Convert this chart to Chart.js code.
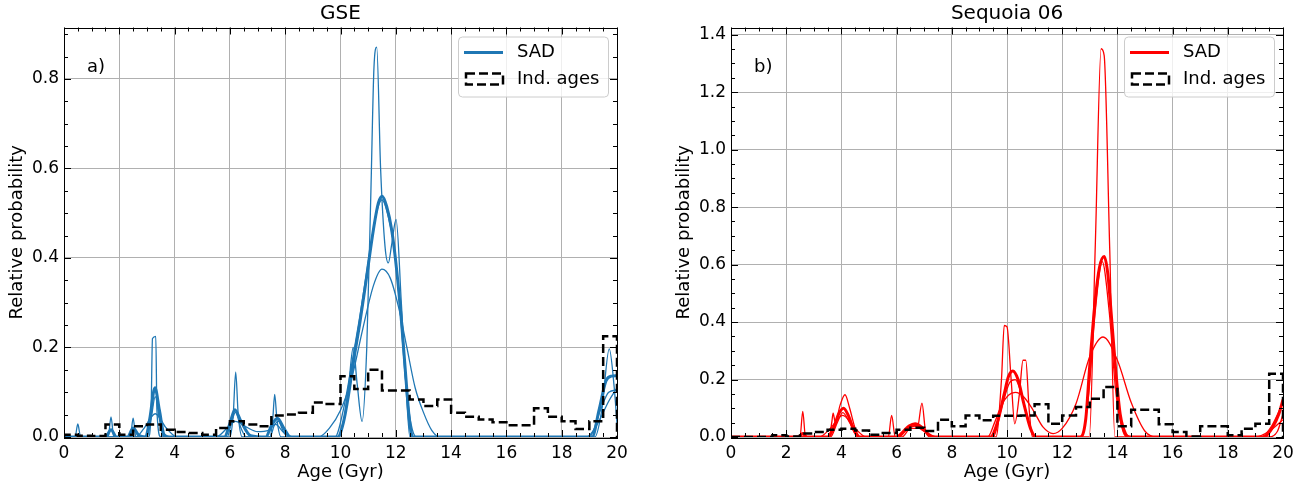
<!DOCTYPE html>
<html>
<head>
<meta charset="utf-8">
<script src="https://cdn.jsdelivr.net/npm/chart.js@4.4.1/dist/chart.umd.min.js"></script>
<style>
  html, body { margin: 0; padding: 0; background: #fff; overflow: hidden; }
  body { width: 1315px; height: 489px; position: relative; }
  canvas { position: absolute; top: 0; }
  #gse { left: 0; }
  #seq { left: 667px; }
</style>
</head>
<body>
<canvas id="gse" width="657" height="489"></canvas>
<canvas id="seq" width="648" height="489"></canvas>
<script>
// ---- shared axis values ----
const xTicks = [0, 2, 4, 6, 8, 10, 12, 14, 16, 18, 20];
const gseYTicks = [0, 0.2, 0.4, 0.6, 0.8];
const seqYTicks = [0, 0.2, 0.4, 0.6, 0.8, 1.0, 1.2, 1.4];

// histogram bins (left edges, 0.5 Gyr wide)
const binStarts = [0, 0.5, 1, 1.5, 2, 2.5, 3, 3.5, 4, 4.5, 5, 5.5, 6, 6.5, 7, 7.5, 8, 8.5, 9, 9.5,
  10, 10.5, 11, 11.5, 12, 12.5, 13, 13.5, 14, 14.5, 15, 15.5, 16, 16.5, 17, 17.5, 18, 18.5, 19, 19.5];

// ---- GSE ----
const gseHist = [0.005, 0.003, 0.002, 0.028, 0.005, 0.024, 0.028, 0.016, 0.011, 0.009,
  0.005, 0.02, 0.035, 0.028, 0.024, 0.048, 0.05, 0.054, 0.077, 0.074,
  0.136, 0.107, 0.15, 0.104, 0.104, 0.084, 0.069, 0.084, 0.054, 0.045,
  0.039, 0.033, 0.026, 0.026, 0.064, 0.045, 0.035, 0.018, 0.035, 0.225];

const gseThickAge = [0, 1.5, 1.7, 1.9, 2.3, 2.5, 2.7, 2.95, 3.1, 3.29, 3.45, 3.62, 3.8, 5.8, 6.0, 6.18, 6.4, 6.75,
  7.3, 7.5, 7.72, 7.95, 8.2, 9.9, 10.1, 10.28, 10.46, 10.7, 10.95, 11.19, 11.37, 11.51, 11.67, 11.85, 12.03,
  12.21, 12.37, 12.49, 12.61, 19.1, 19.35, 19.6, 19.8, 20];
const gseThickVal = [0, 0, 0.016, 0, 0, 0.02, 0.004, 0, 0.04, 0.11, 0.06, 0.005, 0, 0, 0.03, 0.061, 0.035, 0.003,
  0, 0.025, 0.042, 0.02, 0, 0, 0.031, 0.09, 0.165, 0.255, 0.36, 0.463, 0.523, 0.538, 0.515, 0.463, 0.374,
  0.255, 0.128, 0.039, 0, 0, 0.06, 0.125, 0.136, 0.137];

const gseSpikyAge = [0, 0.4, 0.5, 0.6, 1.6, 1.7, 1.8, 2.4, 2.5, 2.6, 3.05, 3.15, 3.2, 3.32, 3.36, 3.5,
  6.0, 6.12, 6.21, 6.3, 6.45, 7.45, 7.55, 7.62, 7.7, 7.85, 9.9, 10.1, 10.3, 10.46, 10.6, 10.78, 10.95,
  11.1, 11.21, 11.31, 11.45, 11.61, 11.73, 11.85, 12.01, 12.2, 12.4, 12.51, 19.2, 19.45, 19.72, 19.9, 20];
const gseSpikyVal = [0, 0, 0.029, 0, 0, 0.045, 0, 0, 0.042, 0, 0, 0.06, 0.22, 0.225, 0.06, 0,
  0, 0.05, 0.145, 0.05, 0, 0, 0.04, 0.095, 0.04, 0, 0, 0.03, 0.12, 0.2, 0.12, 0.035, 0.2,
  0.55, 0.825, 0.871, 0.6, 0.426, 0.389, 0.43, 0.486, 0.3, 0.08, 0, 0, 0.06, 0.197, 0.11, 0.03];

const gseBroadAge = [0, 2.6, 2.9, 3.3, 3.7, 4.1, 5.5, 5.9, 6.2, 6.6, 7.0, 7.4, 7.65, 7.95, 8.3, 9.2, 9.6, 10.0,
  10.4, 10.8, 11.2, 11.5, 11.8, 12.1, 12.4, 12.7, 13.0, 13.3, 13.6, 18.9, 19.3, 19.7, 20];
const gseBroadVal = [0, 0, 0.02, 0.052, 0.02, 0, 0, 0.02, 0.035, 0.022, 0.012, 0.015, 0.028, 0.01, 0, 0, 0.02, 0.06,
  0.13, 0.24, 0.34, 0.375, 0.355, 0.29, 0.2, 0.11, 0.055, 0.015, 0, 0, 0.03, 0.08, 0.11];

const gseMidAge = [0, 3.0, 3.15, 3.3, 3.45, 3.6, 5.9, 6.05, 6.2, 6.4, 6.6, 7.45, 7.6, 7.75, 7.95, 8.1, 9.8, 10.1,
  10.4, 10.7, 11.0, 11.3, 11.5, 11.7, 11.95, 12.15, 12.35, 12.55, 12.75, 19.0, 19.4, 19.7, 20];
const gseMidVal = [0, 0, 0.04, 0.09, 0.04, 0, 0, 0.03, 0.055, 0.02, 0, 0, 0.025, 0.035, 0.01, 0, 0, 0.06,
  0.16, 0.27, 0.39, 0.5, 0.53, 0.5, 0.42, 0.29, 0.13, 0.03, 0, 0, 0.06, 0.1, 0.105];

// ---- Sequoia 06 ----
const seqHist = [0, 0, 0, 0.006, 0.002, 0.012, 0.017, 0.025, 0.029, 0.023,
  0.008, 0.014, 0.025, 0.032, 0.021, 0.06, 0.037, 0.075, 0.058, 0.074,
  0.074, 0.075, 0.114, 0.046, 0.075, 0.104, 0.133, 0.174, 0.037, 0.095,
  0.095, 0.044, 0.017, 0.002, 0.037, 0.037, 0.006, 0.029, 0.046, 0.22];

const seqThickAge = [0, 2.45, 2.6, 2.75, 3.5, 3.75, 3.9, 4.08, 4.25, 4.45, 4.65, 6.0, 6.25, 6.45, 6.67, 6.9, 7.15, 7.4,
  9.4, 9.65, 9.9, 10.05, 10.21, 10.4, 10.6, 10.85, 11.05, 12.65, 12.85, 13.0, 13.2, 13.35, 13.52, 13.65, 13.8,
  13.95, 14.1, 14.3, 14.45, 19.3, 19.6, 19.85, 20];
const seqThickVal = [0, 0, 0.012, 0, 0, 0.04, 0.08, 0.1, 0.075, 0.025, 0, 0, 0.02, 0.038, 0.046, 0.035, 0.01, 0,
  0, 0.05, 0.15, 0.21, 0.23, 0.2, 0.12, 0.03, 0, 0, 0.06, 0.25, 0.48, 0.59, 0.628, 0.57, 0.4,
  0.22, 0.08, 0.01, 0, 0, 0.03, 0.08, 0.13];

const seqSpikyAge = [0, 2.5, 2.6, 2.7, 3.55, 3.65, 3.7, 3.78, 3.95, 4.13, 4.3, 4.5, 4.7, 5.7, 5.82, 5.95,
  6.2, 6.5, 6.75, 6.92, 7.05, 7.25, 9.6, 9.8, 9.9, 10.0, 10.15, 10.28, 10.45, 10.58, 10.68, 10.8, 10.92,
  12.98, 13.2, 13.41, 13.52, 13.72, 13.91, 19.5, 19.8, 20];
const seqSpikyVal = [0, 0, 0.089, 0, 0, 0.05, 0.083, 0.05, 0.11, 0.147, 0.1, 0.03, 0, 0, 0.075, 0,
  0, 0.03, 0.03, 0.118, 0.02, 0, 0, 0.2, 0.388, 0.383, 0.2, 0.046, 0.15, 0.267, 0.267, 0.1, 0,
  0, 0.67, 1.351, 1.328, 0.66, 0, 0, 0.02, 0.08];

const seqBroadAge = [0, 3.2, 3.6, 4.05, 4.5, 4.9, 6.0, 6.3, 6.65, 7.0, 7.4, 9.3, 9.55, 9.8, 10.05, 10.3, 10.6, 10.95,
  11.3, 11.67, 12.0, 12.5, 13.0, 13.48, 14.0, 14.5, 15.0, 15.4, 19.0, 19.5, 20];
const seqBroadVal = [0, 0, 0.03, 0.075, 0.03, 0, 0, 0.02, 0.038, 0.02, 0, 0, 0.05, 0.11, 0.145, 0.155, 0.14, 0.093,
  0.035, 0.012, 0.03, 0.116, 0.28, 0.348, 0.267, 0.12, 0.02, 0, 0, 0.02, 0.06];

const seqMidAge = [0, 3.6, 3.85, 4.05, 4.3, 4.6, 6.1, 6.4, 6.7, 7.0, 7.3, 9.5, 9.8, 10.1, 10.3, 10.55, 10.8, 11.0,
  12.7, 12.95, 13.2, 13.45, 13.7, 13.95, 14.2, 14.4, 19.2, 19.6, 20];
const seqMidVal = [0, 0, 0.05, 0.085, 0.05, 0, 0, 0.03, 0.04, 0.02, 0, 0, 0.1, 0.19, 0.2, 0.14, 0.05, 0,
  0, 0.14, 0.44, 0.61, 0.44, 0.15, 0.02, 0, 0, 0.04, 0.12];

const FONT = "'DejaVu Sans', sans-serif";

// draws frame, inward ticks, title, panel label and legend
const panelDecor = {
  id: 'panelDecor',
  afterDraw(chart, args, opts) {
    const { ctx, chartArea: a, scales: { x, y } } = chart;
    ctx.save();
    ctx.strokeStyle = '#000';
    ctx.lineWidth = 1;

    // x ticks (top + bottom)
    ctx.beginPath();
    for (let i = 0; i <= 40; i++) {
      const v = i * 0.5;
      const px = Math.round(x.getPixelForValue(v)) + 0.5;
      const len = i % 4 === 0 ? 7 : 4;
      ctx.moveTo(px, a.bottom); ctx.lineTo(px, a.bottom - len);
      ctx.moveTo(px, a.top); ctx.lineTo(px, a.top + len);
    }
    // y ticks (left + right)
    const nMinor = Math.floor(y.max / 0.05 + 1e-6);
    for (let i = 0; i <= nMinor; i++) {
      const py = Math.round(y.getPixelForValue(i * 0.05)) + 0.5;
      const len = i % 4 === 0 ? 7 : 4;
      ctx.moveTo(a.left, py); ctx.lineTo(a.left + len, py);
      ctx.moveTo(a.right, py); ctx.lineTo(a.right - len, py);
    }
    ctx.stroke();

    // frame
    ctx.strokeRect(Math.round(a.left) + 0.5, Math.round(a.top) + 0.5,
      Math.round(a.right - a.left), Math.round(a.bottom - a.top));

    // title
    ctx.fillStyle = '#000';
    ctx.font = `20px ${FONT}`;
    ctx.textAlign = 'center';
    ctx.textBaseline = 'middle';
    ctx.fillText(opts.title, (a.left + a.right) / 2, 14);

    // panel label
    ctx.font = `18px ${FONT}`;
    ctx.textAlign = 'left';
    ctx.fillText(opts.label, a.left + 23, a.top + 40);

    // legend
    const bw = 150, bh = 60;
    const bx = a.right - 9 - bw, by = a.top + 9;
    ctx.beginPath();
    ctx.roundRect(bx + 0.5, by + 0.5, bw, bh, 4);
    ctx.fillStyle = 'rgba(255,255,255,0.8)';
    ctx.fill();
    ctx.strokeStyle = '#cccccc';
    ctx.stroke();

    ctx.strokeStyle = opts.color;
    ctx.lineWidth = 3;
    ctx.beginPath();
    ctx.moveTo(bx + 6, by + 16); ctx.lineTo(bx + 45, by + 16);
    ctx.stroke();

    ctx.strokeStyle = '#000';
    ctx.lineWidth = 2.5;
    ctx.setLineDash([9, 4]);
    ctx.strokeRect(bx + 8, by + 37, 37, 11);
    ctx.setLineDash([]);

    ctx.fillStyle = '#000';
    ctx.font = `18px ${FONT}`;
    ctx.fillText('SAD', bx + 59, by + 16);
    ctx.fillText('Ind. ages', bx + 59, by + 43);
    ctx.restore();
  }
};

function makePanel(canvasId, p) {
  const curveSets = p.curves.map(c => ({
    label: 'SAD',
    data: c.ages.map((a, i) => ({ x: a, y: c.vals[i] })),
    borderColor: p.color,
    borderWidth: c.width,
    pointRadius: 0,
    cubicInterpolationMode: 'monotone',
    fill: false
  }));

  // step outline: horizontal at each bin value, drops to zero at both ends
  const histPts = [{ x: 0, y: 0 }];
  binStarts.forEach((b, i) => histPts.push({ x: b, y: p.hist[i] }));
  histPts.push({ x: 20, y: p.hist[p.hist.length - 1] });
  histPts.push({ x: 20, y: 0 });

  const histSet = {
    label: 'Ind. ages',
    data: histPts,
    stepped: 'before',
    borderColor: '#000',
    borderWidth: 2.5,
    borderDash: [9, 4],
    pointRadius: 0,
    fill: false
  };

  return new Chart(document.getElementById(canvasId), {
    type: 'line',
    data: { datasets: [histSet, ...curveSets] },
    options: {
      responsive: false,
      animation: false,
      devicePixelRatio: 1,
      layout: { padding: { left: 0, top: 27.5, right: p.padRight, bottom: 0 } },
      scales: {
        x: {
          type: 'linear',
          min: 0,
          max: 20,
          afterBuildTicks: s => { s.ticks = xTicks.map(v => ({ value: v })); },
          afterFit: s => { s.height = 52; },
          grid: { color: '#b0b0b0', lineWidth: 1, drawTicks: false },
          border: { display: false },
          ticks: { color: '#000', padding: 6, maxRotation: 0, font: { family: FONT, size: 17 } },
          title: { display: true, text: 'Age (Gyr)', color: '#000', padding: { top: 0, bottom: 6 },
            font: { family: FONT, size: 18 } }
        },
        y: {
          type: 'linear',
          min: 0,
          max: p.yMax,
          afterBuildTicks: s => { s.ticks = p.yTicks.map(v => ({ value: v })); },
          afterFit: s => { s.width = 64; },
          grid: { color: '#b0b0b0', lineWidth: 1, drawTicks: false },
          border: { display: false },
          ticks: { color: '#000', padding: 5, font: { family: FONT, size: 17 },
            callback: v => Number(v).toFixed(1) },
          title: { display: true, text: 'Relative probability', color: '#000', padding: { top: 7, bottom: 6 },
            font: { family: FONT, size: 18 } }
        }
      },
      plugins: {
        legend: { display: false },
        tooltip: { enabled: false },
        panelDecor: { title: p.title, label: p.label, color: p.color }
      }
    },
    plugins: [panelDecor]
  });
}

makePanel('gse', {
  title: 'GSE', label: 'a)', color: '#1f77b4', yMax: 0.915, yTicks: gseYTicks, padRight: 40,
  hist: gseHist,
  curves: [
    { ages: gseBroadAge, vals: gseBroadVal, width: 1.3 },
    { ages: gseMidAge, vals: gseMidVal, width: 1.3 },
    { ages: gseSpikyAge, vals: gseSpikyVal, width: 1.3 },
    { ages: gseThickAge, vals: gseThickVal, width: 3 }
  ]
});

makePanel('seq', {
  title: 'Sequoia 06', label: 'b)', color: '#ff0000', yMax: 1.425, yTicks: seqYTicks, padRight: 32,
  hist: seqHist,
  curves: [
    { ages: seqBroadAge, vals: seqBroadVal, width: 1.3 },
    { ages: seqMidAge, vals: seqMidVal, width: 1.3 },
    { ages: seqSpikyAge, vals: seqSpikyVal, width: 1.3 },
    { ages: seqThickAge, vals: seqThickVal, width: 3 }
  ]
});
</script>
</body>
</html>
